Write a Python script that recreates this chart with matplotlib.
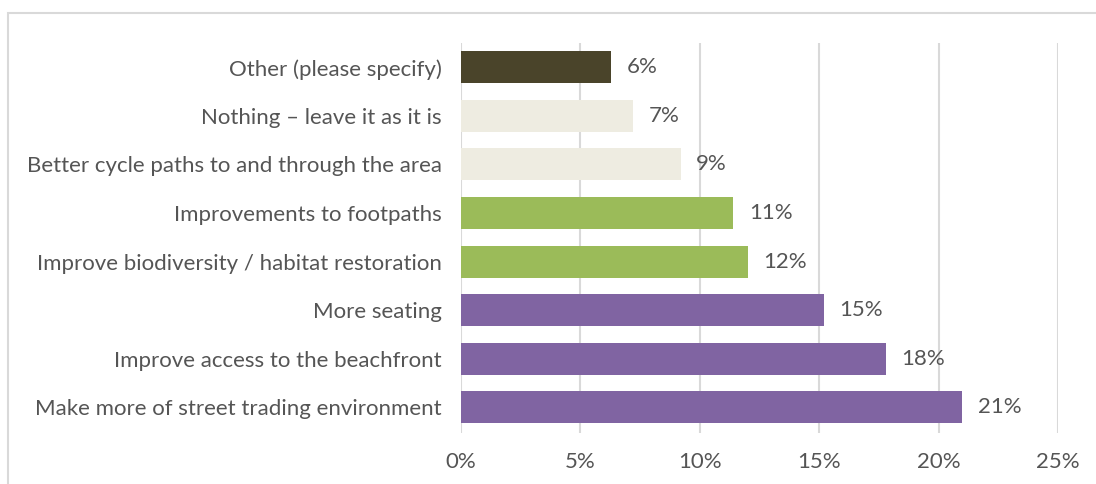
import matplotlib
matplotlib.use('Agg')
import matplotlib.pyplot as plt
from matplotlib.patches import Rectangle

# categories listed bottom to top
categories = [
    "Make more of street trading environment",
    "Improve access to the beachfront",
    "More seating",
    "Improve biodiversity / habitat restoration",
    "Improvements to footpaths",
    "Better cycle paths to and through the area",
    "Nothing \u2013 leave it as it is",
    "Other (please specify)",
]
values = [21.0, 17.8, 15.2, 12.0, 11.4, 9.2, 7.2, 6.3]
colors = ["#8064A2", "#8064A2", "#8064A2", "#9BBB59", "#9BBB59",
          "#EEECE1", "#EEECE1", "#4A442A"]
xticks = [0, 5, 10, 15, 20, 25]

plt.rcParams['font.family'] = ['Lato', 'DejaVu Sans']
text_color = "#555555"
fs = 16

fig = plt.figure(figsize=(10.96, 4.84), dpi=100)
ax = fig.add_axes([0.4206, 0.1054, 0.5447, 0.8056])

# light outer frame of the chart area
fig.patches.append(Rectangle((8 / 1096, -0.1), 1.2, 1 - 13 / 484 + 0.1,
                             transform=fig.transFigure, fill=False,
                             edgecolor="#D9D9D9", linewidth=1.5))

ypos = list(range(len(categories)))
ax.barh(ypos, values, height=0.66, color=colors, zorder=3)
for y, v in zip(ypos, values):
    ax.text(v + 0.65, y, "%d%%" % round(v), va="center", ha="left",
            fontsize=fs, color=text_color)

ax.set_xlim(0, 25)
ax.set_ylim(-0.53, 7.5)
ax.set_xticks(xticks)
ax.set_xticklabels(["%d%%" % t for t in xticks], fontsize=fs, color=text_color)
ax.set_yticks(ypos)
ax.set_yticklabels(categories, fontsize=fs, color=text_color)
ax.tick_params(axis='x', length=0, pad=14)
ax.tick_params(axis='y', length=0, pad=14)
ax.grid(axis='x', color="#D9D9D9", linewidth=1.5, zorder=0)
for s in ax.spines.values():
    s.set_visible(False)

fig.savefig("out.png", dpi=100)
